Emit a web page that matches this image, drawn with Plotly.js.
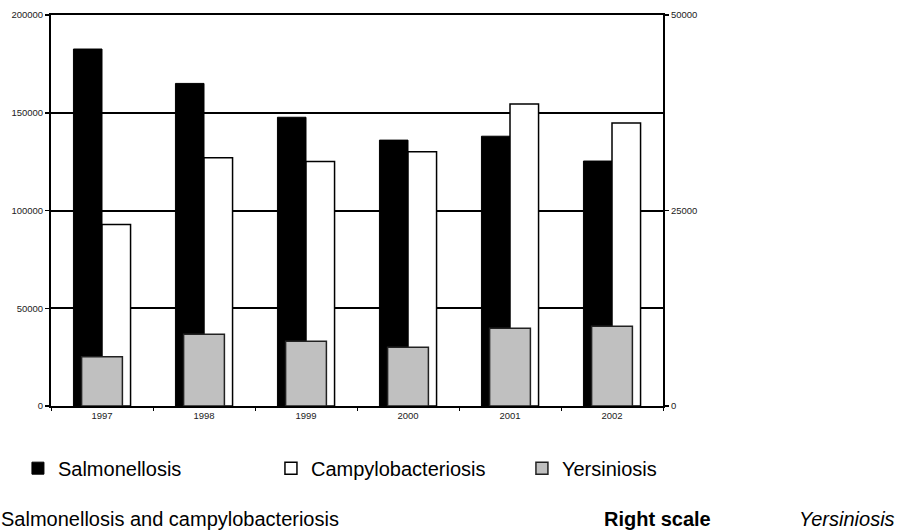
<!DOCTYPE html>
<html>
<head>
<meta charset="utf-8">
<script src="https://cdn.plot.ly/plotly-3.0.1.min.js"></script>
<style>html,body{margin:0;padding:0;background:#fff;}#chart{width:901px;height:531px;}</style>
</head>
<body>
<div id="chart"></div>
<script>
var years = ['1997', '1998', '1999', '2000', '2001', '2002'];
var salmonellosis = [182600, 165000, 147700, 136000, 138000, 125300];
var campylobacteriosis = [92900, 127000, 125100, 130000, 154500, 144800];
var yersiniosis = [6300, 9170, 8270, 7500, 9930, 10190];
var leftTicks = [0, 50000, 100000, 150000, 200000];
var rightTicks = [0, 25000, 50000];

var FONT = 'Arial, "Liberation Sans", sans-serif';

var traces = [
  {
    type: 'bar', name: 'Salmonellosis', x: years, y: salmonellosis,
    xaxis: 'x', yaxis: 'y', width: 0.28, offset: -0.28, legend: 'legend',
    marker: {color: '#000000', line: {color: '#000000', width: 1}},
    hoverinfo: 'x+y'
  },
  {
    type: 'bar', name: 'Campylobacteriosis', x: years, y: campylobacteriosis,
    xaxis: 'x', yaxis: 'y', width: 0.28, offset: 0, legend: 'legend2',
    marker: {color: '#ffffff', line: {color: '#000000', width: 1.5}},
    hoverinfo: 'x+y'
  },
  {
    type: 'bar', name: 'Yersiniosis', x: years, y: yersiniosis,
    xaxis: 'x', yaxis: 'y2', width: 0.4, offset: -0.2, legend: 'legend3',
    marker: {color: '#c0c0c0', line: {color: '#222222', width: 1.5}},
    hoverinfo: 'x+y'
  }
];

function legendAt(xp) {
  return {
    orientation: 'h', x: xp, xanchor: 'left', y: -0.159, yanchor: 'middle',
    font: {family: FONT, size: 20, color: '#000000'},
    bgcolor: 'rgba(0,0,0,0)', borderwidth: 0
  };
}

var layout = {
  width: 901, height: 531,
  margin: {l: 51, r: 238, t: 15, b: 125},
  paper_bgcolor: '#ffffff', plot_bgcolor: '#ffffff',
  font: {family: FONT, color: '#000000'},
  showlegend: true,
  barmode: 'overlay',
  legend: legendAt(-0.0540),
  legend2: legendAt(0.3594),
  legend3: legendAt(0.7695),
  xaxis: {
    type: 'category', showgrid: false, zeroline: false,
    showline: true, mirror: true, linecolor: '#000000', linewidth: 2,
    ticks: 'outside', tickson: 'boundaries', ticklen: 3, tickcolor: '#000000', tickwidth: 1,
    tickfont: {family: FONT, size: 9.5, color: '#222222'},
    fixedrange: true
  },
  yaxis: {
    range: [0, 200000], tickvals: leftTicks, ticktext: leftTicks.map(String),
    showgrid: true, gridcolor: '#000000', gridwidth: 2, zeroline: false,
    showline: true, linecolor: '#000000', linewidth: 2,
    ticks: 'outside', ticklen: 4, tickcolor: '#000000', tickwidth: 1.5,
    tickfont: {family: FONT, size: 9.5, color: '#222222'},
    fixedrange: true
  },
  yaxis2: {
    overlaying: 'y', side: 'right', anchor: 'x',
    range: [0, 50000], tickvals: rightTicks, ticktext: rightTicks.map(String),
    showgrid: false, zeroline: false,
    showline: true, linecolor: '#000000', linewidth: 2,
    ticks: 'outside', ticklen: 4, tickcolor: '#000000', tickwidth: 1.5,
    tickfont: {family: FONT, size: 9.5, color: '#222222'},
    fixedrange: true
  },
  annotations: [
    {text: 'Salmonellosis and campylobacteriosis', xref: 'paper', yref: 'paper',
     x: -0.088, xshift: 2, y: -0.289, xanchor: 'left', yanchor: 'middle', showarrow: false,
     font: {family: FONT, size: 20, color: '#000000'}},
    {text: '<b>Right scale</b>', xref: 'paper', yref: 'paper',
     x: 0.905, xshift: -3, y: -0.289, xanchor: 'left', yanchor: 'middle', showarrow: false,
     font: {family: FONT, size: 20, color: '#000000'}},
    {text: '<i>Yersiniosis</i>', xref: 'paper', yref: 'paper',
     x: 1.224, xshift: -3, y: -0.289, xanchor: 'left', yanchor: 'middle', showarrow: false,
     font: {family: FONT, size: 20, color: '#000000'}}
  ]
};

Plotly.newPlot('chart', traces, layout, {displayModeBar: false, staticPlot: true});
</script>
</body>
</html>
